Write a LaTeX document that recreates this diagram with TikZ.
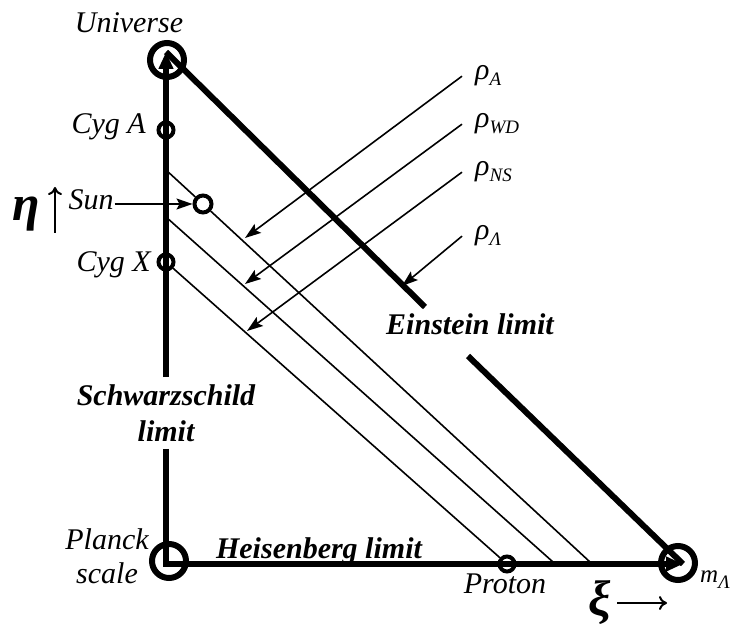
\documentclass[tikz,border=0pt]{standalone}
\usepackage{fontspec}
\setmainfont{Liberation Serif}
\usetikzlibrary{arrows.meta,positioning}
\tikzset{
    lbl/.style={
        font=\fontsize{30}{34}\selectfont\itshape,
        inner sep=1pt,
        align=center
    },
    limitlbl/.style={
        font=\fontsize{30}{36}\selectfont\bfseries\itshape,
        inner sep=1pt,
        align=center
    },
    rholbl/.style={
        font=\fontsize{30}{34}\selectfont\itshape,
        inner xsep=13pt,
        inner ysep=1pt,
        anchor=base west
    },
    biglbl/.style={
        font=\fontsize{50}{50}\selectfont\bfseries\itshape,
        inner sep=0pt
    },
    bigring/.style={
        draw,
        circle,
        line width=6pt,
        minimum size=34pt,
        inner sep=0pt
    },
    ring/.style={
        draw,
        circle,
        line width=4pt,
        minimum size=15pt,
        inner sep=0pt
    },
    axis/.style={line width=6pt, line join=miter, -{Triangle[length=17pt,width=14pt]}},
    edge/.style={line width=6pt},
    track/.style={line width=1.6pt},
    pointer/.style={line width=1.6pt, -{Stealth[length=16pt,width=11pt,inset=3pt]}},
    dirarrow/.style={line width=2pt, -{To[length=8pt,width=14pt]}}
}
\newcommand{\lowsub}[1]{\raisebox{-6pt}{\fontsize{19}{19}\selectfont #1}}

\begin{document}
\begin{tikzpicture}[x=1pt,y=-1pt]
    \useasboundingbox (0,0) rectangle (734,628);

    % corners of the triangle
    \coordinate (origin) at (166,564);
    \coordinate (utip) at (166,52);
    \coordinate (mtip) at (683,564);

    % rings
    \node[bigring] (univ) at (167,60) {};
    \node[bigring] (planck) at (169,561) {};
    \node[bigring] (mlam) at (678,563) {};
    \node[ring] (cyga) at (166,130) {};
    \node[ring, minimum size=17pt] (sun) at (203,204) {};
    \node[ring] (cygx) at (166,262) {};
    \node[ring] (proton) at (507,564) {};

    % labels
    \node[lbl, anchor=base] (univlbl) at (129,33) {Universe};
    \node[lbl, anchor=base east] (cygalbl) at (147,134) {Cyg A};
    \node[lbl, anchor=base] (sunlbl) at (91,210) {Sun};
    \node[lbl, anchor=base east] (cygxlbl) at (152,272) {Cyg X};
    \node[lbl, anchor=base] (protonlbl) at (505,593) {Proton};
    \node[lbl] (plancklbl) at (107,556) {Planck\\scale};
    \node[lbl, anchor=base west, font=\fontsize{25}{25}\selectfont\itshape] (mlamlbl) at (699,582) {m\lowsub{Λ}};
    \node[limitlbl, inner sep=7pt] (schw) at (166,413) {Schwarzschild\\limit};
    \node[limitlbl, anchor=base] (heis) at (319,558) {Heisenberg limit};
    \node[limitlbl, anchor=base] (einst) at (470,335) {Einstein limit};
    \node[biglbl] (eta) at (26,214) {η};
    \node[biglbl] (xi) at (600,603) {ξ};

    % density labels
    \node[rholbl] (rhoA) at (462,80) {ρ\lowsub{A}};
    \node[rholbl] (rhoWD) at (462,128) {ρ\lowsub{WD}};
    \node[rholbl] (rhoNS) at (462,176) {ρ\lowsub{NS}};
    \node[rholbl] (rhoL) at (462,240) {ρ\lowsub{Λ}};

    % axes and limits
    \draw[axis] (schw.south) -- (origin) -- (mtip);
    \draw[axis] (schw.north) -- (utip);
    \coordinate (e1) at (425,307);
    \coordinate (e2) at (468,356);
    \draw[edge] (utip) -- (e1);
    \draw[edge] (e2) -- (mtip);

    % density tracks
    \coordinate (t1a) at (166,170);
    \coordinate (t1b) at (590,562);
    \coordinate (t2a) at (166,217);
    \coordinate (t2b) at (553,562);
    \draw[track] (t1a) -- (sun);
    \draw[track] (sun) -- (t1b);
    \draw[track] (t2a) -- (t2b);
    \draw[track] (cygx) -- (proton);

    % pointers
    \coordinate (pA) at (245,238);
    \coordinate (pWD) at (245,284);
    \coordinate (pNS) at (247,331);
    \coordinate (pL) at (402,286);
    \draw[pointer] (rhoA.west) -- (pA);
    \draw[pointer] (rhoWD.west) -- (pWD);
    \draw[pointer] (rhoNS.west) -- (pNS);
    \draw[pointer] (rhoL.west) -- (pL);
    \draw[pointer] (sunlbl.east |- sun.west) -- (sun.west);

    % directions
    \coordinate (up0) at (55,233);
    \coordinate (up1) at (55,187);
    \coordinate (rt0) at (617,603);
    \coordinate (rt1) at (667,603);
    \draw[dirarrow] (up0) -- (up1);
    \draw[dirarrow] (rt0) -- (rt1);
\end{tikzpicture}
\end{document}
